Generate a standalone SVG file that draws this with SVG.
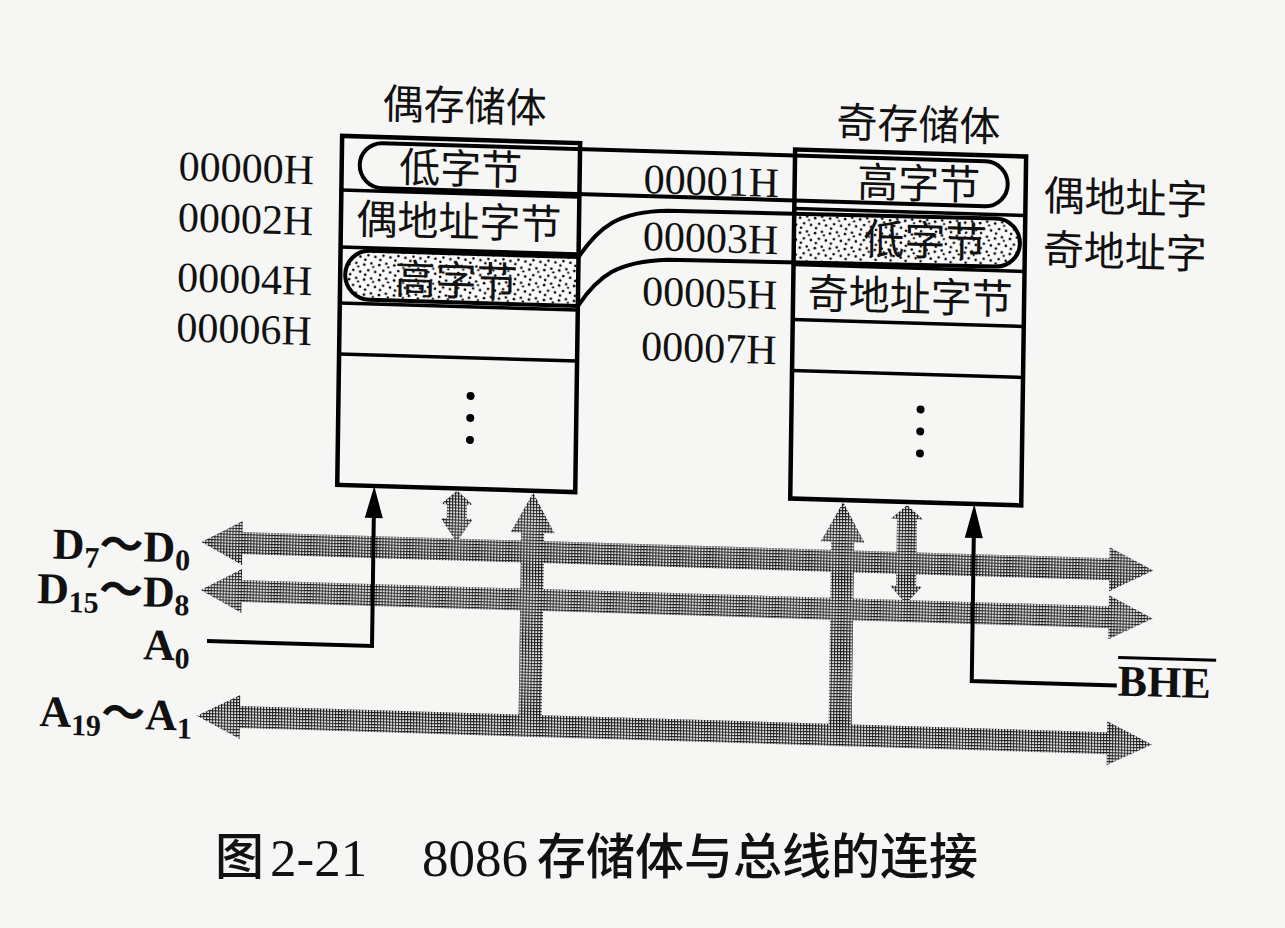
<svg xmlns="http://www.w3.org/2000/svg" width="1285" height="928" viewBox="0 0 1285 928">
  <style>
    .box { fill: none; stroke: #000; stroke-width: 4.5; }
    .row { stroke: #000; stroke-width: 3.5; fill: none; }
    .cap { fill: none; stroke: #000; stroke-width: 4; }
    .stip { fill: url(#stipple); stroke: none; }
    .bus { fill: url(#hatch); }
    .wire { fill: none; stroke: #000; stroke-width: 4; }
    .head { fill: #000; }
    .lat { font-family: "Liberation Serif", "Noto Sans CJK SC", serif; font-weight: bold; fill: #111; }
    .addr { font-family: "Liberation Serif", serif; font-size: 42px; fill: #111; }
    .cn { font-family: "Noto Sans CJK SC", sans-serif; font-size: 41px; fill: #111; }
    .cap-cn { font-family: "Noto Sans CJK SC", sans-serif; font-size: 49px; font-weight: 500; fill: #111; }
    .cap-num { font-family: "Liberation Serif", serif; font-size: 53px; fill: #111; }
    .dot { fill: #000; }
  </style>
  <defs>
    <pattern id="hatch" width="3" height="3" patternUnits="userSpaceOnUse">
      <rect width="3" height="3" fill="#e4e4e4"/>
      <rect width="3" height="1" fill="#1e1e1e"/>
      <rect width="1" height="3" fill="#1e1e1e"/>
    </pattern>
    <pattern id="stipple" width="15" height="15" patternUnits="userSpaceOnUse">
      <rect width="15" height="15" fill="#fafafa"/>
      <circle cx="2" cy="3" r="1.3" fill="#000"/>
      <circle cx="9" cy="1.5" r="1.3" fill="#000"/>
      <circle cx="6" cy="8.5" r="1.3" fill="#000"/>
      <circle cx="13" cy="10" r="1.3" fill="#000"/>
      <circle cx="3" cy="13" r="1.3" fill="#000"/>
      <circle cx="11" cy="5" r="1.1" fill="#000"/>
    </pattern>
  </defs>
  <rect width="1285" height="928" fill="#f6f6f4"/>

  <g id="diagram" transform="matrix(1 0.03 -0.014 1 6.16 -19.2)">
    <!-- buses -->
    <g id="bus-d7-d0">
      <polygon class="bus" points="203,555 244,533 244,544 1111,544 1111,533 1155,555 1111,577 1111,566 244,566 244,577"/>
      <text class="lat" x="192" y="576" text-anchor="end" font-size="44">D<tspan font-size="30" dy="8">7</tspan><tspan dy="-8">～</tspan>D<tspan font-size="30" dy="8">0</tspan></text>
    </g>
    <g id="bus-d15-d8">
      <polygon class="bus" points="203,603 244,581 244,592 1111,592 1111,581 1155,603 1111,625 1111,614 244,614 244,625"/>
      <text class="lat" x="192" y="621" text-anchor="end" font-size="44">D<tspan font-size="30" dy="8">15</tspan><tspan dy="-8">～</tspan>D<tspan font-size="30" dy="8">8</tspan></text>
    </g>
    <g id="bus-a19-a1">
      <polygon class="bus" points="201,729 244,707 244,718 1111,718 1111,707 1156,729 1111,751 1111,740 244,740 244,751"/>
      <text class="lat" x="196" y="744" text-anchor="end" font-size="44">A<tspan font-size="30" dy="8">19</tspan><tspan dy="-8">～</tspan>A<tspan font-size="30" dy="8">1</tspan></text>
    </g>
    <g id="signal-a0">
      <text class="lat" x="193" y="674" text-anchor="end" font-size="44">A<tspan font-size="30" dy="8">0</tspan></text>
    </g>
    <g id="signal-bhe">
      <text class="lat" x="1121" y="681" font-size="44">BHE</text>
      <line x1="1121" y1="643" x2="1219" y2="643" stroke="#000" stroke-width="3"/>
    </g>

    <!-- even bank -->
    <g id="even-bank">
      <text class="cn" x="460" y="126" text-anchor="middle">偶存储体</text>
      <path class="stip" d="M576 259 L367.5 259 A24.5 24.5 0 0 0 367.5 308 L576 308 Z"/>
      <rect class="box" x="338" y="145" width="238" height="349"/>
      <line class="row" x1="338" y1="199" x2="576" y2="199"/>
      <line class="row" x1="338" y1="256" x2="576" y2="256"/>
      <line class="row" x1="338" y1="312" x2="576" y2="312"/>
      <line class="row" x1="338" y1="363" x2="576" y2="363"/>
      <text class="cn" x="457" y="189" text-anchor="middle">低字节</text>
      <text class="cn" x="456" y="242" text-anchor="middle">偶地址字节</text>
      <text class="cn" x="454" y="301" text-anchor="middle">高字节</text>
      <circle class="dot" cx="470" cy="401" r="4"/>
      <circle class="dot" cx="470" cy="423" r="4"/>
      <circle class="dot" cx="470" cy="445" r="4"/>
      <text class="addr" x="175" y="194">00000H</text>
      <text class="addr" x="175" y="245">00002H</text>
      <text class="addr" x="175" y="305">00004H</text>
      <text class="addr" x="175" y="355">00006H</text>
    </g>

    <!-- odd bank -->
    <g id="odd-bank">
      <text class="cn" x="914" y="131" text-anchor="middle">奇存储体</text>
      <path class="stip" d="M791 208 L993 208 A24 24 0 0 1 993 256 L791 256 Z"/>
      <rect class="box" x="791" y="145" width="231" height="349"/>
      <line class="row" x1="791" y1="204" x2="1022" y2="204"/>
      <line class="row" x1="791" y1="260" x2="1022" y2="260"/>
      <line class="row" x1="791" y1="315" x2="1022" y2="315"/>
      <line class="row" x1="791" y1="366" x2="1022" y2="366"/>
      <text class="cn" x="915" y="190" text-anchor="middle">高字节</text>
      <text class="cn" x="922" y="247" text-anchor="middle">低字节</text>
      <text class="cn" x="908" y="303" text-anchor="middle">奇地址字节</text>
      <circle class="dot" cx="920" cy="401" r="4"/>
      <circle class="dot" cx="920" cy="423" r="4"/>
      <circle class="dot" cx="920" cy="445" r="4"/>
      <text class="addr" x="640" y="193">00001H</text>
      <text class="addr" x="640" y="250">00003H</text>
      <text class="addr" x="640" y="305">00005H</text>
      <text class="addr" x="640" y="360">00007H</text>
      <text class="cn" x="1040" y="198">偶地址字</text>
      <text class="cn" x="1040" y="252">奇地址字</text>
    </g>

    <!-- connectors -->
    <g id="connectors">
      <!-- even-address word outline (00000H low byte + 00001H high byte) -->
      <rect class="cap" x="356" y="151" width="648" height="45" rx="22.5" ry="22.5"/>
      <!-- odd-address word outline (00003H low byte + 00004H high byte) -->
      <path class="cap" d="M576 259 L367.5 259 A24.5 24.5 0 0 0 367.5 308 L576 308 C596 277 615 262 665 259 L993 256 A24 24 0 0 0 993 208 L665 210 C615 212 596 228 576 259 Z"/>
      <!-- bus branches -->
      <polygon class="bus" points="534,496 556,536 545.5,536 545.5,740 522.5,740 522.5,536 512,536"/>
      <polygon class="bus" points="844,496 866,536 855.5,536 855.5,740 832.5,740 832.5,536 822,536"/>
      <polygon class="bus" points="458,496 474,510 468,510 468,524 474,524 458,548 442,524 448,524 448,510 442,510"/>
      <polygon class="bus" points="908,497 924,511 918,511 918,578 924,578 908,596 892,578 898,578 898,511 892,511"/>
      <!-- A0 -->
      <path class="wire" d="M210 654 H375 V520"/>
      <polygon class="head" points="375,494 384,526 366,526"/>
      <!-- BHE -->
      <path class="wire" d="M1120 671 H975 V522"/>
      <polygon class="head" points="975,494 984,528 966,528"/>
    </g>
  </g>

  <g id="caption">
    <text class="cap-cn" x="215" y="874">图</text>
    <text class="cap-num" x="270" y="876">2-21</text>
    <text class="cap-num" x="422" y="876">8086</text>
    <text class="cap-cn" x="537" y="874">存储体与总线的连接</text>
  </g>
</svg>
